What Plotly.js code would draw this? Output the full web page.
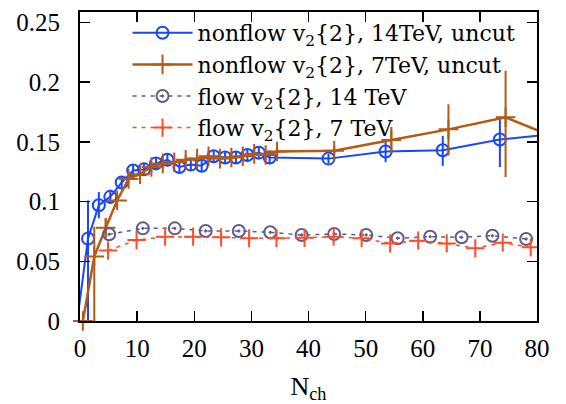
<!DOCTYPE html>
<html>
<head>
<meta charset="utf-8">
<script src="https://cdn.plot.ly/plotly-3.0.1.min.js"></script>
<style>html,body{margin:0;padding:0;background:#fff;}#chart{width:566px;height:404px;}</style>
</head>
<body>
<div id="chart"></div>
<script>
// nonflow v2{2}, 14 TeV, uncut
const blueX = [-0.5, 1.4, 3.3, 5.3, 7.3, 9.3, 11.2, 13.3, 15.3, 17.4, 19.4, 21.3, 23.4, 25.4, 27.3, 29.3, 31.3, 33.2, 43.5, 53.5, 63.5, 73.5, 83.5];
const blueY = [0, 0.069, 0.097, 0.104, 0.116, 0.126, 0.127, 0.132, 0.135, 0.129, 0.131, 0.130, 0.138, 0.137, 0.137, 0.139, 0.141, 0.137, 0.136, 0.142, 0.143, 0.152, 0.157];
const blueErrUp = [0, 0.032, 0.011, 0.006, 0.005, 0.005, 0.005, 0.005, 0.005, 0.005, 0.005, 0.005, 0.005, 0.005, 0.005, 0.005, 0.005, 0.005, 0.004, 0.009, 0.012, 0.018, 0];
const blueErrDn = [0, 0.069, 0.011, 0.006, 0.005, 0.005, 0.005, 0.005, 0.005, 0.005, 0.005, 0.005, 0.005, 0.005, 0.005, 0.005, 0.005, 0.005, 0.004, 0.009, 0.013, 0.023, 0];
// nonflow v2{2}, 7 TeV, uncut
const brownX = [0.5, 2.5, 4.5, 6.5, 8.5, 10.5, 12.5, 14.5, 16.5, 18.5, 20.5, 22.5, 24.5, 26.5, 28.5, 30.5, 32.5, 34.5, 44.5, 54.5, 64.5, 74.5, 84.5];
const brownY = [0, 0.054, 0.078, 0.101, 0.119, 0.123, 0.129, 0.132, 0.133, 0.135, 0.136, 0.138, 0.136, 0.137, 0.138, 0.140, 0.139, 0.142, 0.1426, 0.1516, 0.1605, 0.1706, 0.151];
const brownErrUp = [0, 0.025, 0.008, 0.005, 0.004, 0.004, 0.004, 0.004, 0.004, 0.004, 0.004, 0.004, 0.004, 0.004, 0.004, 0.004, 0.004, 0.004, 0.004, 0.011, 0.021, 0.039, 0];
const brownErrDn = [0, 0.054, 0.008, 0.005, 0.004, 0.004, 0.004, 0.004, 0.004, 0.004, 0.004, 0.004, 0.004, 0.004, 0.004, 0.004, 0.004, 0.004, 0.004, 0.011, 0.022, 0.050, 0];
// flow v2{2}, 14 TeV
const grayX = [5.1, 11.0, 16.6, 22.0, 27.8, 33.3, 38.8, 44.5, 50.1, 55.6, 61.3, 66.8, 72.2, 78.1];
const grayY = [0.0726, 0.0776, 0.0776, 0.0754, 0.0754, 0.0743, 0.0720, 0.0729, 0.0720, 0.0693, 0.0706, 0.0701, 0.0714, 0.0687];
// flow v2{2}, 7 TeV
const redX = [4.9, 9.9, 14.9, 19.8, 24.7, 29.6, 34.4, 39.3, 44.4, 49.3, 54.3, 59.2, 64.2, 69.2, 74.0, 78.9];
const redY = [0.0590, 0.0678, 0.0706, 0.0706, 0.0701, 0.0693, 0.0693, 0.0697, 0.0706, 0.0693, 0.0650, 0.0673, 0.0650, 0.0609, 0.0656, 0.0617];

const names = ['nonflow v<sub>2</sub>{2}, 14TeV, uncut', 'nonflow v<sub>2</sub>{2}, 7TeV, uncut', 'flow v<sub>2</sub>{2}, 14 TeV', 'flow v<sub>2</sub>{2}, 7 TeV'];
const xTicks = [0, 10, 20, 30, 40, 50, 60, 70, 80];
const yTicks = [0, 0.05, 0.1, 0.15, 0.2, 0.25];
const yTickText = ['0', '0.05', '0.1', '0.15', '0.2', '0.25'];

const cBlue = '#1746ff', cBrown = '#b35a14', cGray = '#5c5c8c', cRed = '#ff4c2a';
const FONT = 'Liberation Serif';
const LEGFONT = 'DejaVu Serif';

const traces = [
  {x: blueX, y: blueY, name: names[0], mode: 'lines+markers', type: 'scatter',
   line: {color: cBlue, width: 2}, marker: {symbol: 'circle-open', size: 12, color: cBlue, line: {width: 2, color: cBlue}},
   error_y: {type: 'data', symmetric: false, array: blueErrUp, arrayminus: blueErrDn, color: cBlue, thickness: 2, width: 0}},
  {x: brownX, y: brownY, name: names[1], mode: 'lines+markers', type: 'scatter', cliponaxis: false,
   line: {color: cBrown, width: 2.5}, marker: {symbol: 'cross-thin-open', size: 14, color: cBrown, line: {width: 2, color: cBrown}},
   error_y: {type: 'data', symmetric: false, array: brownErrUp, arrayminus: brownErrDn, color: cBrown, thickness: 2, width: 0}},
  {x: grayX, y: grayY, name: names[2], mode: 'lines+markers', type: 'scatter',
   line: {color: cGray, width: 1.5, dash: '4px,5px'}, marker: {symbol: 'circle-open-dot', size: 12, color: cGray, line: {width: 2, color: cGray}}},
  {x: redX, y: redY, name: names[3], mode: 'lines+markers', type: 'scatter',
   line: {color: cRed, width: 1.5, dash: '4px,5px'}, marker: {symbol: 'cross-thin-open', size: 13, color: cRed, line: {width: 2, color: cRed}}}
];

const axisCommon = {
  showline: true, linecolor: '#000', linewidth: 2, mirror: 'ticks',
  ticks: 'inside', ticklen: 10, tickwidth: 1.5, tickcolor: '#000',
  showgrid: false, zeroline: false,
  tickfont: {family: FONT, size: 25, color: '#000'}
};

const layout = {
  width: 566, height: 404,
  margin: {l: 80, r: 29, t: 12, b: 83},
  paper_bgcolor: '#fff', plot_bgcolor: '#fff',
  font: {family: FONT, color: '#000'},
  showlegend: true,
  legend: {x: 0.104, y: 1.0, xanchor: 'left', yanchor: 'top', bgcolor: 'rgba(0,0,0,0)',
           font: {family: LEGFONT, size: 22, color: '#000'}, itemwidth: 60, tracegroupgap: 0},
  xaxis: Object.assign({}, axisCommon, {range: [0, 80], tickvals: xTicks, ticktext: xTicks.map(String),
    ticklabelstandoff: 4,
    title: {text: 'N<sub>ch</sub>', font: {family: FONT, size: 26, color: '#000'}, standoff: 20}}),
  yaxis: Object.assign({}, axisCommon, {range: [0, 0.2588], tickvals: yTicks, ticktext: yTickText,
    ticklabelstandoff: 13})
};

Plotly.newPlot('chart', traces, layout, {displayModeBar: false, staticPlot: true});
</script>
</body>
</html>
